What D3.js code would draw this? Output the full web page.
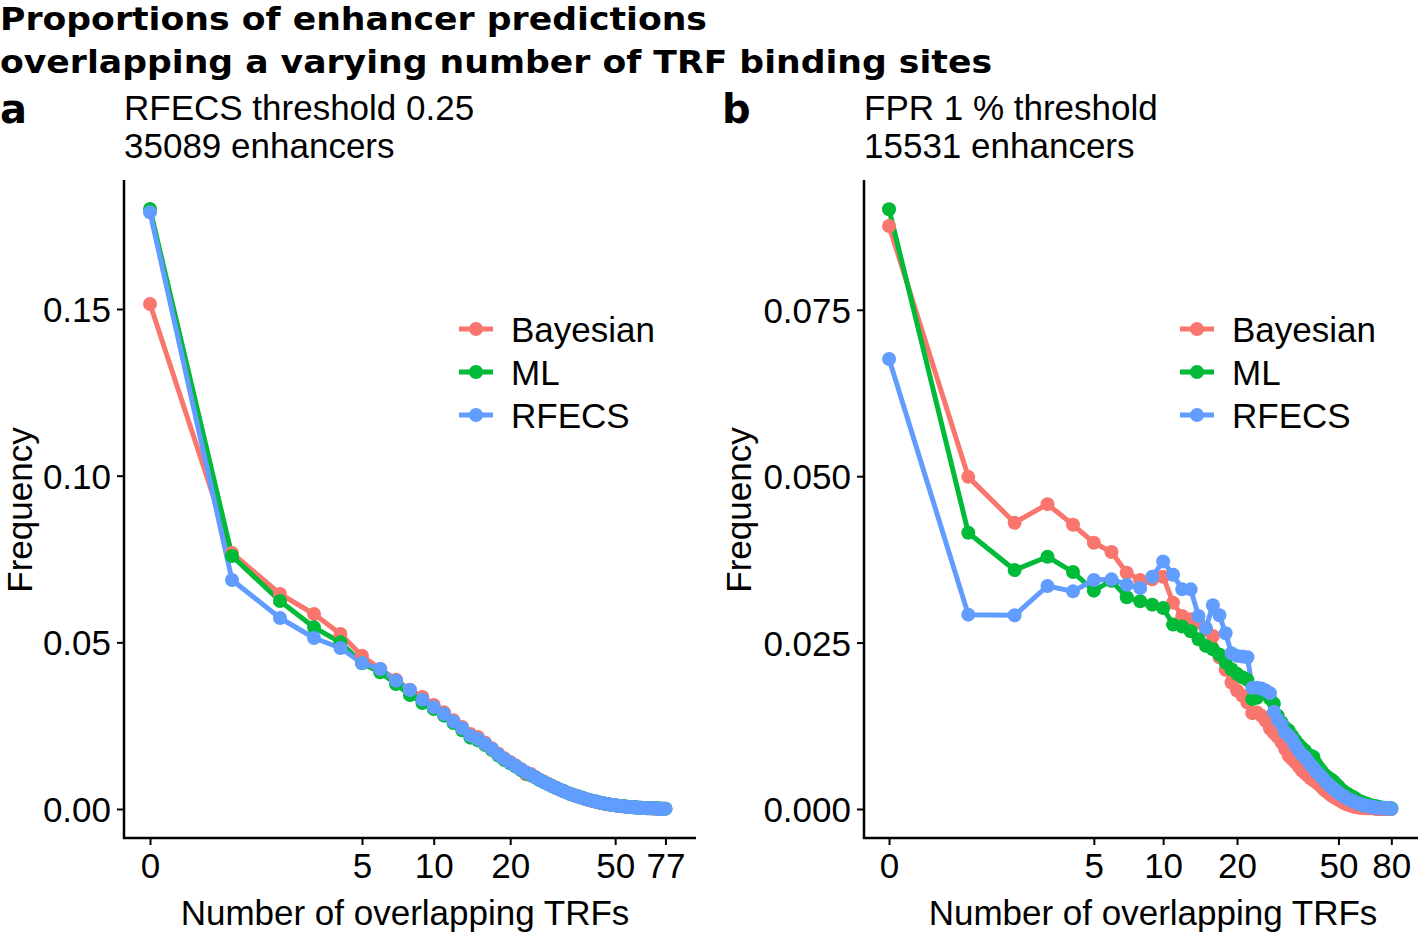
<!DOCTYPE html>
<html>
<head>
<meta charset="utf-8">
<script src="https://cdn.jsdelivr.net/npm/d3@7"></script>
<style>
html,body{margin:0;padding:0;background:#fff;}
svg{display:block;font-family:"Liberation Sans",Arial,Helvetica,sans-serif;}
</style>
</head>
<body>
<svg id="chart" width="1418" height="934"></svg>
<script>
// ---------- DATA ----------
const seriesNames = ["Bayesian", "ML", "RFECS"];
const seriesColors = ["#F8766D", "#00BA38", "#619CFF"];

const titleLines = ["Proportions of enhancer predictions", "overlapping a varying number of TRF binding sites"];
const panelA_sub = ["RFECS threshold 0.25", "35089 enhancers"];
const panelB_sub = ["FPR 1 % threshold", "15531 enhancers"];
const xLabel = "Number of overlapping TRFs";
const yLabel = "Frequency";

const xTicksA = [0, 5, 10, 20, 50, 77];
const xTicksB = [0, 5, 10, 20, 50, 80];
const yTicksA = [0.00, 0.05, 0.10, 0.15];
const yTicksB = [0.000, 0.025, 0.050, 0.075];

// Panel a: x = 0..77
const bayesA = [0.1515,0.0768,0.0645,0.0585,0.0525,0.0460,0.0420,0.0388,0.0358,0.0336,
0.0312,0.0290,0.0266,0.0246,0.0225,0.0216,0.0199,0.0182,0.0166,0.0152,
0.0141,0.0131,0.0120,0.0104,0.0105,0.0096,0.0088,0.0081,0.0075,0.0069,
0.0064,0.0058,0.0054,0.0049,0.0045,0.0041,0.0038,0.0035,0.0032,0.0029,
0.0026,0.0024,0.0022,0.0020,0.0018,0.0017,0.0015,0.0014,0.0013,0.0012,
0.0011,0.0010,0.0009,0.0008,0.0008,0.0007,0.0006,0.0006,0.0005,0.0005,
0.0004,0.0004,0.0004,0.0003,0.0003,0.0003,0.0002,0.0002,0.0002,0.0002,
0.0002,0.0001,0.0001,0.0001,0.0001,0.0001,0.0001,0.0001];
const mlA = [0.1800,0.0759,0.0624,0.0545,0.0500,0.0437,0.0410,0.0375,0.0342,0.0318,
0.0300,0.0280,0.0258,0.0236,0.0214,0.0206,0.0192,0.0177,0.0160,0.0147,
0.0137,0.0127,0.0117,0.0108,0.0101,0.0094,0.0086,0.0080,0.0074,0.0068,
0.0063,0.0058,0.0053,0.0049,0.0045,0.0041,0.0038,0.0035,0.0032,0.0029,
0.0027,0.0025,0.0023,0.0021,0.0019,0.0017,0.0016,0.0015,0.0013,0.0012,
0.0011,0.0010,0.0009,0.0009,0.0008,0.0007,0.0007,0.0006,0.0006,0.0005,
0.0005,0.0004,0.0004,0.0004,0.0003,0.0003,0.0003,0.0003,0.0002,0.0002,
0.0002,0.0002,0.0002,0.0001,0.0001,0.0001,0.0001,0.0001];
const rfecsA = [0.1790,0.0687,0.0573,0.0513,0.0483,0.0438,0.0420,0.0385,0.0357,0.0328,
0.0305,0.0285,0.0262,0.0242,0.0220,0.0210,0.0195,0.0180,0.0163,0.0150,
0.0139,0.0129,0.0119,0.0110,0.0103,0.0095,0.0087,0.0080,0.0074,0.0068,
0.0063,0.0058,0.0053,0.0049,0.0045,0.0041,0.0038,0.0035,0.0032,0.0029,
0.0027,0.0025,0.0023,0.0021,0.0019,0.0017,0.0016,0.0014,0.0013,0.0012,
0.0011,0.0010,0.0009,0.0008,0.0008,0.0007,0.0006,0.0006,0.0005,0.0005,
0.0004,0.0004,0.0004,0.0003,0.0003,0.0003,0.0002,0.0002,0.0002,0.0002,
0.0002,0.0001,0.0001,0.0001,0.0001,0.0001,0.0001,0.0001];

// Panel b: x = 0..80
const bayesB = [0.0876,0.0499,0.0430,0.0458,0.0427,0.0400,0.0386,0.0355,0.0344,0.0345,
0.0349,0.0310,0.0290,0.0285,0.0280,0.0270,0.0260,0.0228,0.0209,0.0190,
0.0178,0.0170,0.0160,0.0144,0.0145,0.0140,0.0132,0.0121,0.0114,0.0108,
0.0100,0.0090,0.0080,0.0075,0.0070,0.0064,0.0058,0.0054,0.0050,0.0046,
0.0043,0.0040,0.0037,0.0033,0.0029,0.0026,0.0023,0.0020,0.0018,0.0016,
0.0014,0.0012,0.0010,0.0008,0.0007,0.0006,0.0005,0.0004,0.0003,0.0003,
0.0002,0.0002,0.0002,0.0001,0.0001,0.0001,0.0001,0.0001,0.0001,0.0001,
0.0000,0.0000,0.0000,0.0000,0.0000,0.0000,0.0000,0.0000,0.0000,0.0000,0.0000];
const mlB = [0.0901,0.0415,0.0359,0.0379,0.0356,0.0328,0.0343,0.0318,0.0312,0.0307,
0.0302,0.0277,0.0274,0.0267,0.0255,0.0245,0.0240,0.0232,0.0220,0.0210,
0.0203,0.0198,0.0194,0.0165,0.0167,0.0180,0.0176,0.0166,0.0158,0.0140,
0.0130,0.0122,0.0118,0.0110,0.0103,0.0097,0.0092,0.0088,0.0082,0.0080,
0.0078,0.0068,0.0062,0.0057,0.0052,0.0049,0.0046,0.0044,0.0041,0.0037,
0.0034,0.0030,0.0027,0.0025,0.0023,0.0021,0.0019,0.0018,0.0016,0.0014,
0.0012,0.0011,0.0010,0.0009,0.0008,0.0007,0.0006,0.0005,0.0005,0.0004,
0.0004,0.0003,0.0003,0.0002,0.0002,0.0002,0.0001,0.0001,0.0001,0.0001,0.0001];
const rfecsB = [0.0676,0.0292,0.0291,0.0335,0.0327,0.0344,0.0345,0.0337,0.0332,0.0349,
0.0372,0.0352,0.0330,0.0330,0.0290,0.0272,0.0306,0.0291,0.0264,0.0234,
0.0230,0.0229,0.0228,0.0182,0.0182,0.0181,0.0178,0.0174,0.0146,0.0134,
0.0127,0.0115,0.0110,0.0104,0.0095,0.0088,0.0082,0.0078,0.0072,0.0066,
0.0062,0.0056,0.0052,0.0048,0.0044,0.0040,0.0036,0.0033,0.0030,0.0027,
0.0024,0.0022,0.0020,0.0018,0.0016,0.0014,0.0013,0.0012,0.0010,0.0009,
0.0008,0.0007,0.0006,0.0005,0.0005,0.0004,0.0004,0.0003,0.0003,0.0002,
0.0002,0.0002,0.0002,0.0001,0.0001,0.0001,0.0001,0.0001,0.0001,0.0001,0.0000];

// ---------- DRAW ----------
const svg = d3.select("#chart");
const FS = 35;

const titleWidths = [707, 992];
svg.append("g").selectAll("text").data(titleLines).join("text")
  .attr("x", 0).attr("y", (d, i) => 30 + i * 43)
  .attr("font-family", "DejaVu Sans, sans-serif")
  .attr("font-size", 32).attr("font-weight", 700)
  .attr("textLength", (d, i) => titleWidths[i]).attr("lengthAdjust", "spacingAndGlyphs")
  .attr("fill", "#000").text(d => d);

function panel(opt) {
  const g = svg.append("g");
  const x = d3.scaleSymlog().constant(1).domain(opt.xDomain).range([opt.left, opt.right]);
  const y = d3.scaleLinear().domain(opt.yDomain).range([opt.bottom, opt.top]);

  // panel letter + subtitle
  g.append("text").attr("x", opt.letterX).attr("y", 123).attr("font-size", 40)
    .attr("font-family", "DejaVu Sans, sans-serif")
    .attr("font-weight", 700).text(opt.letter);
  g.selectAll("text.sub").data(opt.sub).join("text").attr("class", "sub")
    .attr("x", opt.left).attr("y", (d, i) => 120 + i * 38)
    .attr("font-size", FS).text(d => d);

  // axes
  const yAxis = d3.axisLeft(y).tickValues(opt.yTicks).tickFormat(opt.yFmt).tickSize(7).tickPadding(6);
  const ya = g.append("g").attr("transform", `translate(${opt.left},0)`).call(yAxis);
  const xAxis = d3.axisBottom(x).tickValues(opt.xTicks).tickFormat(d3.format("d")).tickSize(7).tickPadding(8);
  const xa = g.append("g").attr("transform", `translate(0,${opt.bottom})`).call(xAxis);
  [ya, xa].forEach(a => {
    a.select(".domain").remove();
    a.selectAll(".tick line").attr("stroke", "#000").attr("stroke-width", 2);
    a.selectAll(".tick text").attr("font-size", FS).attr("fill", "#000")
      .attr("font-family", "Liberation Sans, Arial, sans-serif");
  });
  xa.selectAll(".tick text").attr("dy", "0.72em");
  ya.selectAll(".tick text").attr("dy", "0.36em");
  g.append("line").attr("x1", opt.left).attr("x2", opt.left).attr("y1", opt.top).attr("y2", opt.bottom + 1)
    .attr("stroke", "#000").attr("stroke-width", 2.5);
  g.append("line").attr("x1", opt.left - 1).attr("x2", opt.right).attr("y1", opt.bottom).attr("y2", opt.bottom)
    .attr("stroke", "#000").attr("stroke-width", 2.5);

  // axis titles
  g.append("text").attr("x", opt.xTitleX).attr("y", 925)
    .attr("text-anchor", "middle").attr("font-size", FS).text(xLabel);
  g.append("text").attr("transform", `translate(${opt.yTitleX},${(opt.top + opt.bottom) / 2 + 1}) rotate(-90)`)
    .attr("text-anchor", "middle").attr("font-size", FS).text(yLabel);

  const line = d3.line().x(d => x(d[0])).y(d => y(d[1]));
  const data = opt.series.map(s => s.map((v, i) => [i, v]));
  g.append("g").selectAll("path").data(data).join("path")
    .attr("d", line).attr("fill", "none")
    .attr("stroke", (d, i) => seriesColors[i]).attr("stroke-width", 5)
    .attr("stroke-linejoin", "round");
  data.forEach((s, i) => {
    g.append("g").selectAll("circle").data(s).join("circle")
      .attr("cx", d => x(d[0])).attr("cy", d => y(d[1])).attr("r", 7)
      .attr("fill", seriesColors[i]);
  });

  // legend
  const lg = g.append("g").attr("transform", `translate(${opt.legX},0)`);
  seriesNames.forEach((n, i) => {
    const yy = 329 + i * 43;
    lg.append("line").attr("x1", -17).attr("x2", 17).attr("y1", yy).attr("y2", yy)
      .attr("stroke", seriesColors[i]).attr("stroke-width", 5);
    lg.append("circle").attr("cx", 0).attr("cy", yy).attr("r", 7).attr("fill", seriesColors[i]);
    lg.append("text").attr("x", 35).attr("y", yy).attr("dy", "0.36em")
      .attr("font-size", FS).text(n);
  });
}

panel({
  letter: "a", letterX: 0, sub: panelA_sub,
  left: 124, right: 696, top: 180, bottom: 838,
  xDomain: [-0.246, 100.0], yDomain: [-0.0087, 0.1887],
  xTicks: xTicksA, yTicks: yTicksA, yFmt: d3.format(".2f"),
  series: [bayesA, mlA, rfecsA], legX: 476, xTitleX: 405, yTitleX: 32
});
panel({
  letter: "b", letterX: 722, sub: panelB_sub,
  left: 864, right: 1418, top: 180, bottom: 838,
  xDomain: [-0.245, 101.3], yDomain: [-0.00436, 0.0945],
  xTicks: xTicksB, yTicks: yTicksB, yFmt: d3.format(".3f"),
  series: [bayesB, mlB, rfecsB], legX: 1197, xTitleX: 1153, yTitleX: 751
});
</script>
</body>
</html>
